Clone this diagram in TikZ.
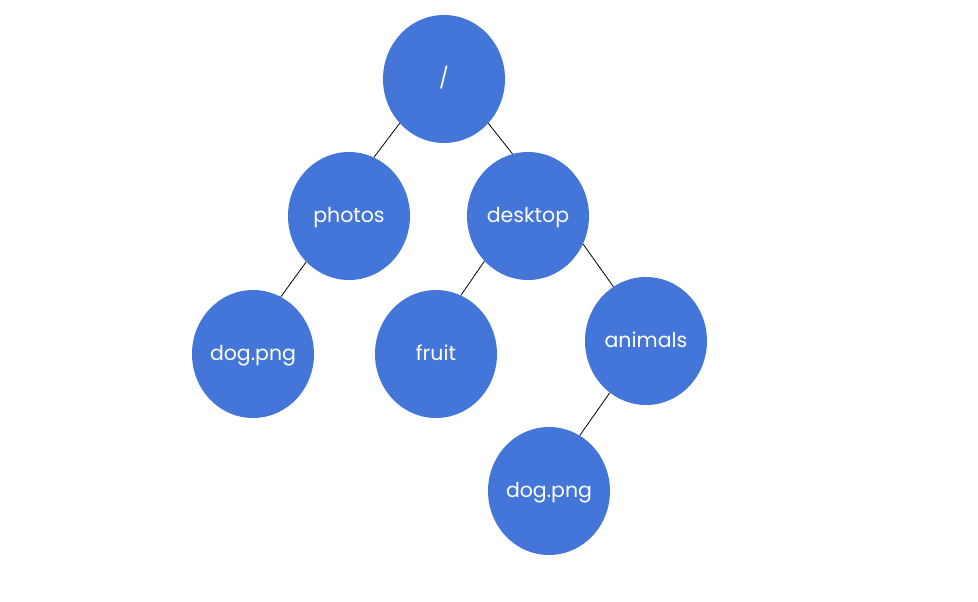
\documentclass[tikz,border=0pt]{standalone}
\usepackage{fontspec}
\setmainfont{Poppins}
\usetikzlibrary{shapes.geometric}
\definecolor{nodeblue}{HTML}{4475D9}
\begin{document}
\begin{tikzpicture}[x=1pt,y=-1pt,
  dirnode/.style={ellipse, fill=nodeblue, text=white, minimum width=122pt, minimum height=128pt, inner sep=0pt, text height=14pt, text depth=1pt, font=\fontsize{20.5}{22}\selectfont},
  link/.style={draw=black, line width=0.8pt}]
\useasboundingbox (0,0) rectangle (978,602);
\node[dirnode] (root) at (444,79) {/};
\node[dirnode] (photos) at (349,216) {photos};
\node[dirnode] (desktop) at (528,216) {desktop};
\node[dirnode] (dog1) at (253,354) {dog.png};
\node[dirnode] (fruit) at (436,354) {fruit};
\node[dirnode] (animals) at (646,341) {animals};
\node[dirnode] (dog2) at (549,491) {dog.png};
\draw[link] (root.225) -- (photos.67);
\draw[link] (root.315) -- (desktop.104);
\draw[link] (photos.227) -- (dog1.64);
\draw[link] (desktop.226) -- (fruit.67);
\draw[link] (desktop.333) -- (animals.121);
\draw[link] (animals.235) -- (dog2.61);
\end{tikzpicture}
\end{document}
